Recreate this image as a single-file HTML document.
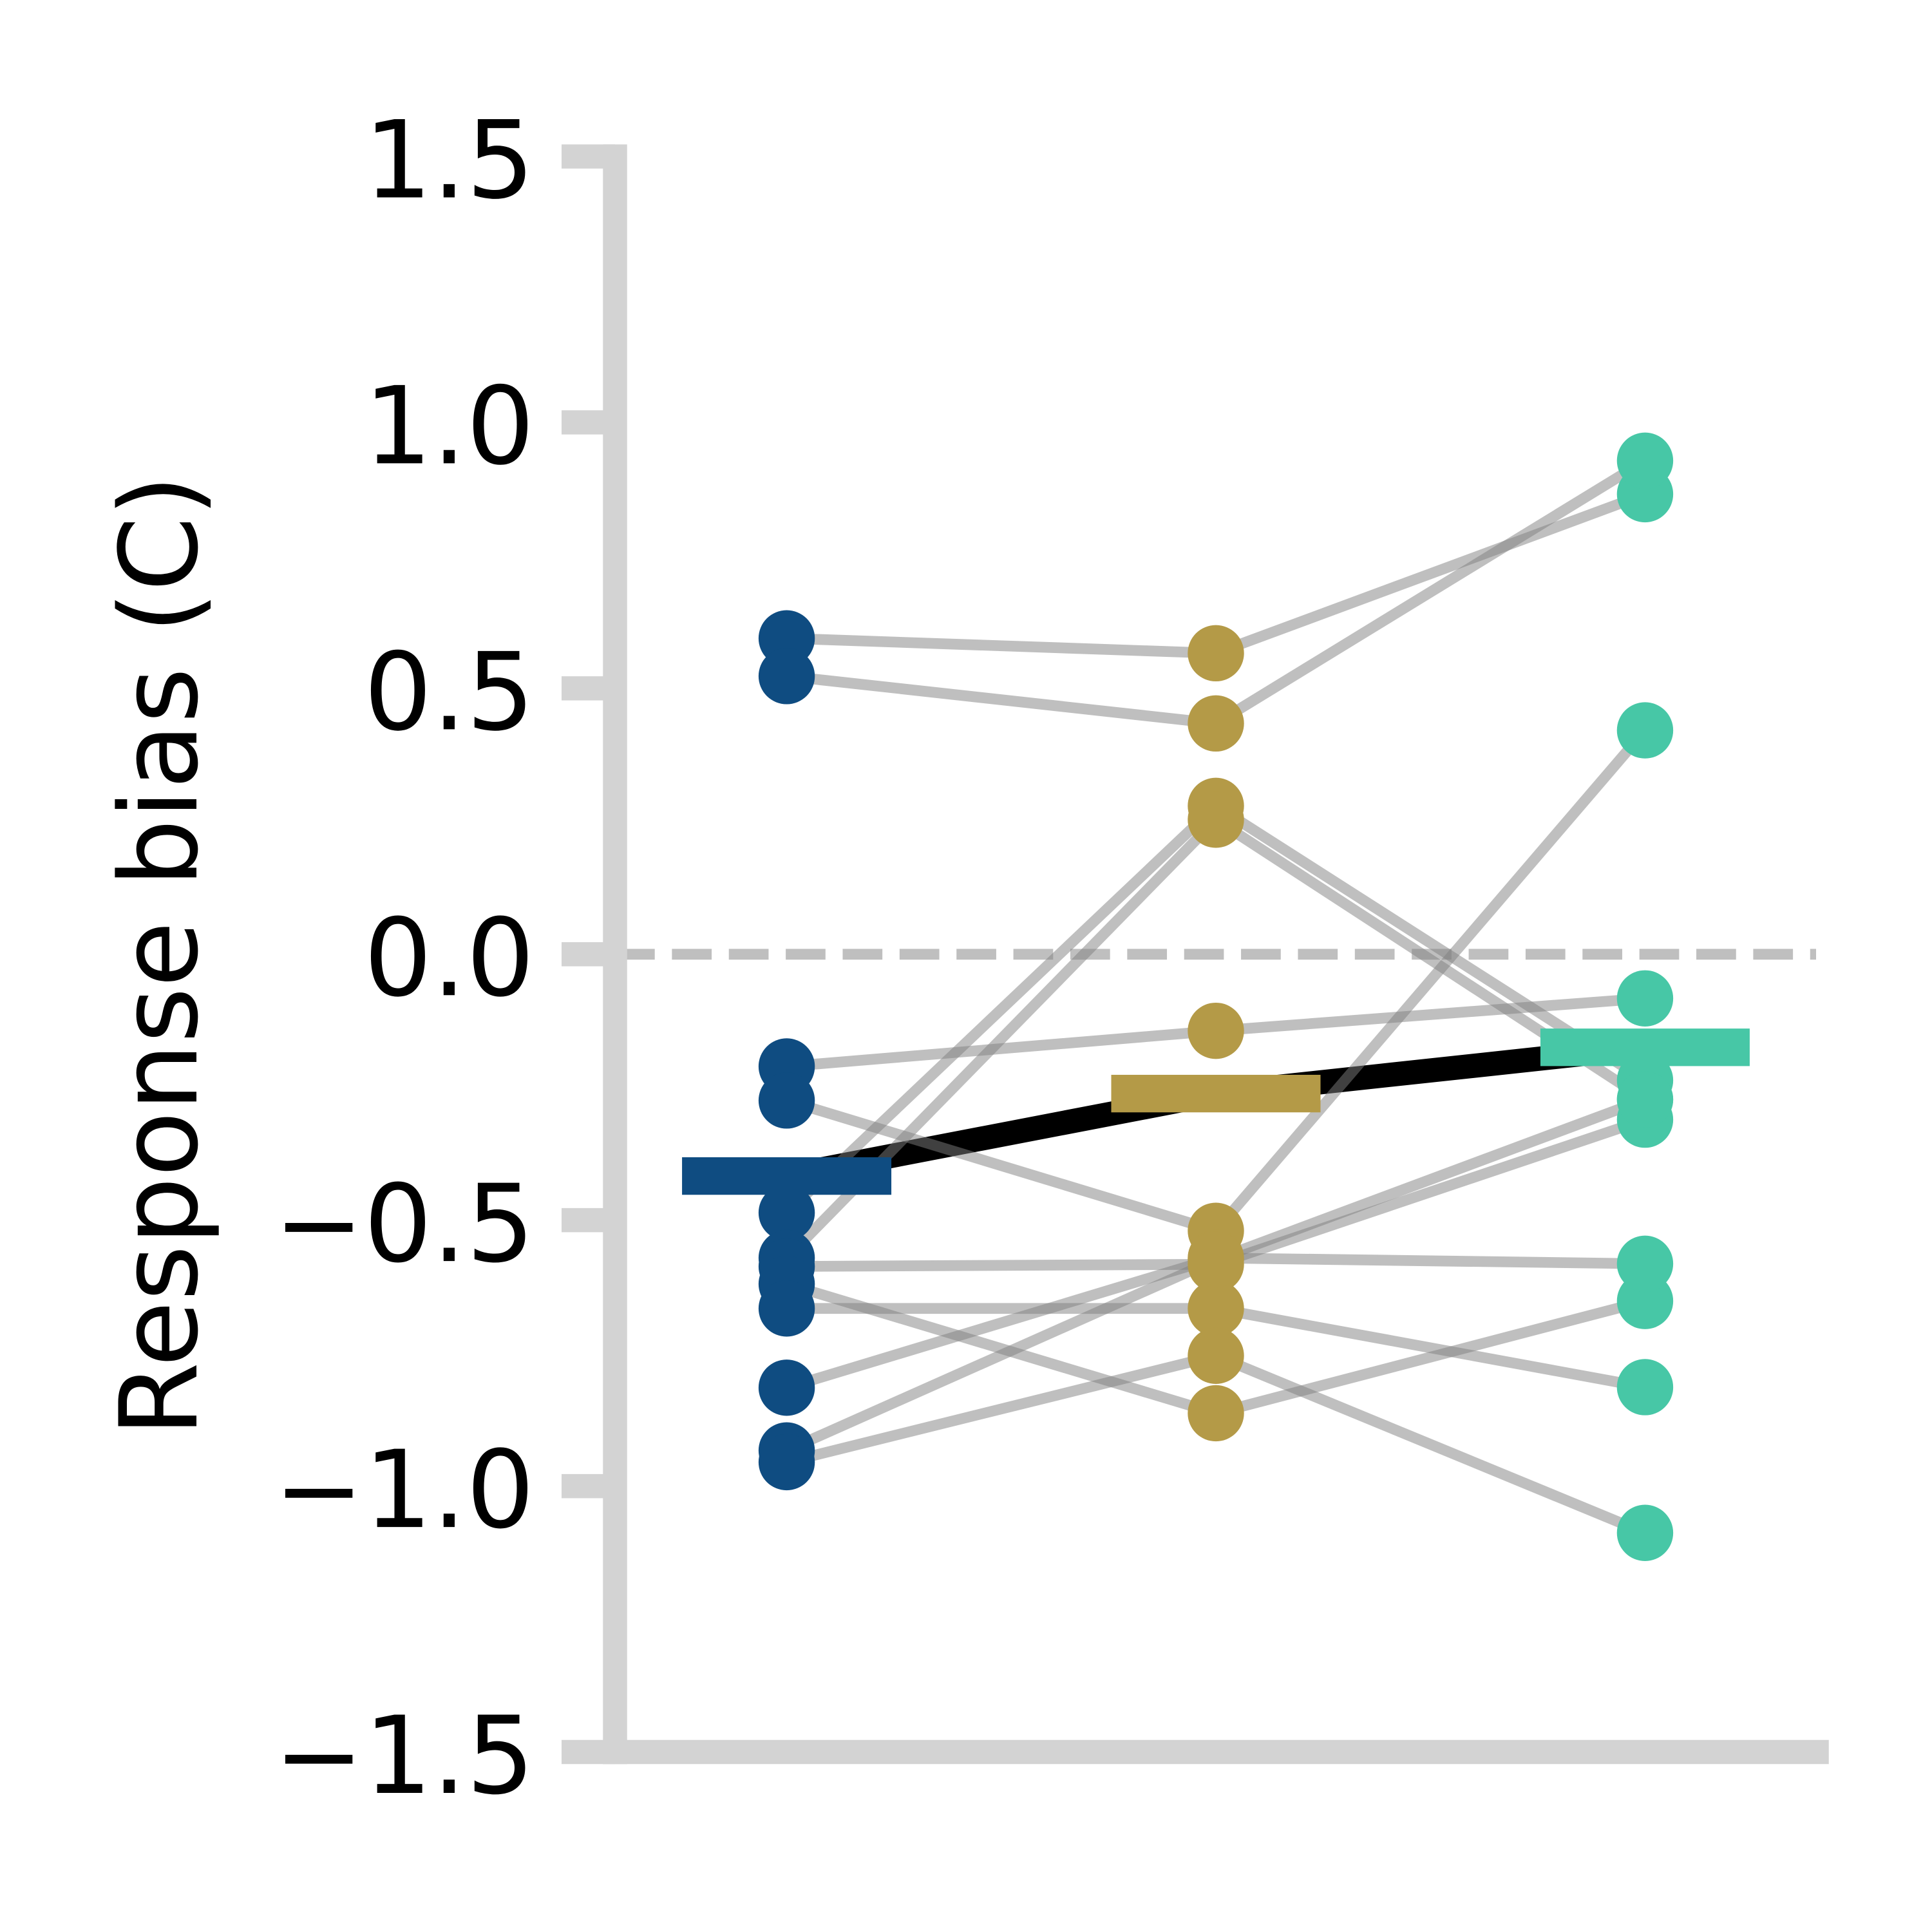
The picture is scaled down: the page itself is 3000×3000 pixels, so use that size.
<!DOCTYPE html>
<html lang="en">
<head>
<meta charset="utf-8">
<title>Response bias (C)</title>
<style>
html,body{margin:0;padding:0;background:#fff;}
svg{display:block;}
text{font-family:"DejaVu Sans","Liberation Sans",sans-serif;fill:#000;}
</style>
</head>
<body>
<svg id="chart" xmlns="http://www.w3.org/2000/svg" width="3000" height="3000" viewBox="0 0 3000 3000">
<rect x="0" y="0" width="3000" height="3000" fill="#ffffff"/>
<g id="reference"></g>
<g id="meanLine"></g>
<g id="subjects"></g>
<g id="points"></g>
<g id="means"></g>
<g id="axes"></g>
<text transform="translate(305,1484) rotate(-90)" text-anchor="middle" font-size="166.67">Response bias (C)</text>
</svg>
<script>
var conditions = ['condition-1', 'condition-2', 'condition-3'];
var conditionColors = ['#0f4c81', '#b49a47', '#47c7a6'];
var conditionOne = [0.594, 0.523, -0.211, -0.275, -0.486, -0.571, -0.587, -0.620, -0.666, -0.815, -0.933, -0.955];
var conditionTwo = [0.566, 0.434, -0.144, -0.520, 0.279, 0.253, -0.583, -0.863, -0.666, -0.571, -0.574, -0.755];
var conditionThree = [0.865, 0.928, -0.083, 0.421, -0.237, -0.273, -0.311, -0.652, -0.814, -0.582, -0.273, -1.088];
var meanValues = [-0.417, -0.262, -0.175];
var tickValues = [1.5, 1.0, 0.5, 0.0, -0.5, -1.0, -1.5];
var tickLabels = ['1.5', '1.0', '0.5', '0.0', '\u22120.5', '\u22121.0', '\u22121.5'];

var NS = 'http://www.w3.org/2000/svg';
var plot = {left: 955, right: 2821, top: 243, bottom: 2720.5, xMin: -0.4, xMax: 2.4, yMin: -1.5, yMax: 1.5};

function xScale(i) {
  return plot.left + (i - plot.xMin) / (plot.xMax - plot.xMin) * (plot.right - plot.left);
}
function yScale(v) {
  return plot.bottom - (v - plot.yMin) / (plot.yMax - plot.yMin) * (plot.bottom - plot.top);
}
function make(tag, parentId, props) {
  var el = document.createElementNS(NS, tag);
  for (var k in props) { el.setAttribute(k, props[k]); }
  document.getElementById(parentId).appendChild(el);
  return el;
}

var series = [conditionOne, conditionTwo, conditionThree];

// zero reference line
var zero = make('line', 'reference', {x1: plot.left, x2: plot.right - 1, y1: yScale(0), y2: yScale(0), stroke: '#808080', 'stroke-opacity': 0.5, 'stroke-width': 16.67, 'stroke-dasharray': '61.7 26.67'});



// mean line
var meanPts = meanValues.map(function (v, i) { return xScale(i) + ',' + yScale(v); }).join(' ');
var meanPath = make('polyline', 'meanLine', {points: meanPts, fill: 'none', stroke: '#000000', 'stroke-width': 37.5, 'stroke-linejoin': 'round'});



// subject lines
conditionOne.forEach(function (_, s) {
  var pts = series.map(function (vals, i) { return xScale(i) + ',' + yScale(vals[s]); }).join(' ');
  var line = make('polyline', 'subjects', {points: pts, fill: 'none', stroke: '#808080', 'stroke-opacity': 0.5, 'stroke-width': 16.67, 'stroke-linejoin': 'round'});
  
  
});

// subject points
series.forEach(function (vals, i) {
  vals.forEach(function (v, s) {
    var dot = make('circle', 'points', {cx: xScale(i), cy: yScale(v), r: 43.7, fill: conditionColors[i]});
    
    
  });
});

// mean bars
meanValues.forEach(function (v, i) {
  var bar = make('rect', 'means', {x: xScale(i) - 162.5, y: yScale(v) - 29.15, width: 325, height: 58.3, fill: conditionColors[i]});
  
  
});

// axes
tickValues.forEach(function (v, i) {
  var tick = make('line', 'axes', {x1: 872, x2: plot.left, y1: yScale(v), y2: yScale(v), stroke: '#d3d3d3', 'stroke-width': 37.5});
  
  
  var label = make('text', 'axes', {x: 830, y: yScale(v) + 63.5, 'text-anchor': 'end', 'font-size': 166.67});
  
  
  label.textContent = tickLabels[i];
});
var ySpine = make('line', 'axes', {x1: plot.left, x2: plot.left, y1: plot.top, y2: plot.bottom, stroke: '#d3d3d3', 'stroke-width': 37.5, 'stroke-linecap': 'square'});


var xSpine = make('line', 'axes', {x1: plot.left, x2: plot.right, y1: plot.bottom, y2: plot.bottom, stroke: '#d3d3d3', 'stroke-width': 37.5, 'stroke-linecap': 'square'});


</script>
</body>
</html>
